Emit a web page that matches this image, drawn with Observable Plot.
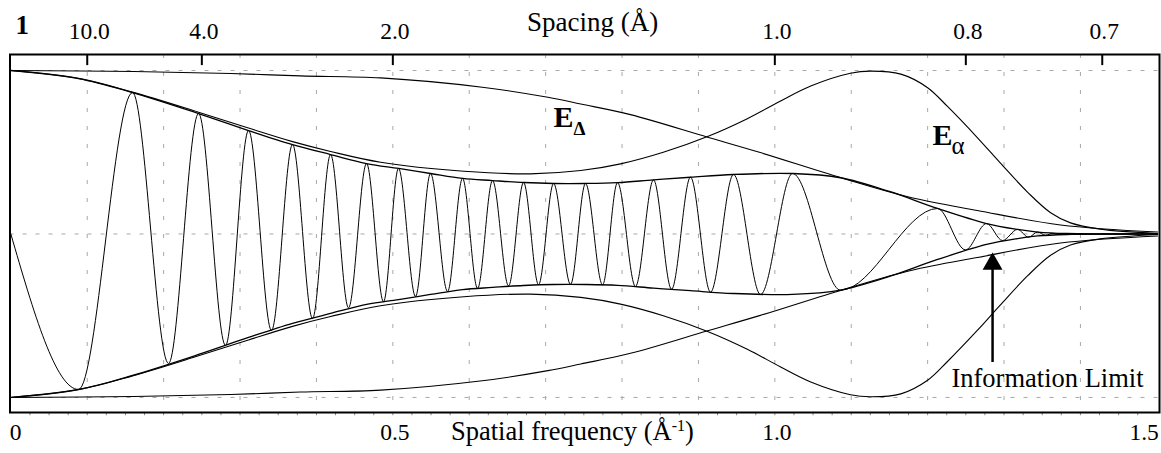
<!DOCTYPE html>
<html><head><meta charset="utf-8">
<script src="https://cdn.jsdelivr.net/npm/d3@7"></script>
<script src="https://cdn.jsdelivr.net/npm/@observablehq/plot@0.6"></script>
<style>html,body{margin:0;padding:0;background:#fff;overflow:hidden}</style>
</head><body><div id="chart"></div>
<script>
// ---- CTF extrema (spatial frequency, amplitude) ----
const ctfK = [0, 0.0886, 0.1593, 0.2064, 0.2457, 0.2810, 0.3111, 0.3412, 0.3687, 0.3949,
  0.4185, 0.4420, 0.4656, 0.4878, 0.5074, 0.5297, 0.5493, 0.5716, 0.5912, 0.6109,
  0.6305, 0.6515, 0.6711, 0.6907, 0.7104, 0.7326, 0.7522, 0.7745, 0.7941, 0.8176,
  0.8412, 0.8648, 0.8896, 0.9158, 0.9459, 0.9813, 1.0232, 1.0860, 1.2130, 1.2496,
  1.2771, 1.2980, 1.3177, 1.3321, 1.3439, 1.3544, 1.3635, 1.3714, 1.3818, 1.5];
const ctfV = [0, -0.951, 0.865, -0.792, 0.737, -0.682, 0.633, -0.590, 0.547, -0.517,
  0.486, -0.452, 0.431, -0.414, 0.401, -0.382, 0.370, -0.352, 0.340, -0.333,
  0.327, -0.318, 0.315, -0.310, 0.309, -0.308, 0.309, -0.311, 0.314, -0.321,
  0.331, -0.338, 0.347, -0.356, 0.364, -0.370, 0.370, -0.344, 0.156, -0.097,
  0.064, -0.040, 0.028, -0.020, 0.012, -0.008, 0.004, -0.002, 0, 0];

// ---- combined envelope E_alpha * E_delta ----
const envK = [0, 0.0886, 0.1593, 0.2457, 0.3111, 0.3687, 0.4185, 0.4656, 0.5074, 0.5493,
  0.5912, 0.6305, 0.6711, 0.7104, 0.7522, 0.7941, 0.8412, 0.8896, 0.9459, 1.0232,
  1.0860, 1.15, 1.2130, 1.2771, 1.3177, 1.3439, 1.3818, 1.5];
const envV = [1, 0.951, 0.865, 0.737, 0.633, 0.547, 0.486, 0.431, 0.401, 0.370,
  0.340, 0.327, 0.315, 0.309, 0.309, 0.314, 0.331, 0.347, 0.364, 0.370,
  0.344, 0.26, 0.156, 0.064, 0.028, 0.012, 0.003, 0];

// ---- spatial coherence envelope E_alpha ----
const eAlphaK = [0, 0.0886, 0.1593, 0.2457, 0.3111, 0.3687, 0.4185, 0.484, 0.593, 0.680,
  0.746, 0.798, 0.854, 0.912, 0.964, 1.007, 1.047, 1.099, 1.125,
  1.165, 1.200, 1.226, 1.265, 1.295, 1.331, 1.361, 1.387, 1.426, 1.501];
const eAlphaV = [1, 0.952, 0.868, 0.745, 0.648, 0.565, 0.505, 0.439, 0.384, 0.368,
  0.388, 0.429, 0.500, 0.596, 0.705, 0.812, 0.905, 0.983, 0.996,
  0.978, 0.895, 0.780, 0.590, 0.435, 0.255, 0.130, 0.068, 0.030, 0.003];

// ---- temporal coherence envelope E_delta ----
const eDeltaK = [0, 0.161, 0.288, 0.379, 0.484, 0.617, 0.703, 0.746, 0.811, 0.912,
  0.981, 1.090, 1.178, 1.265, 1.374, 1.501];
const eDeltaV = [1, 0.994, 0.982, 0.967, 0.955, 0.898, 0.836, 0.795, 0.730, 0.592,
  0.498, 0.339, 0.223, 0.144, 0.055, 0.012];

// ---- axes ----
const freqTicks = [0.5, 1.0];
const freqLabels = ["0.5", "1.0"];
const spacingTicks = [10.0, 4.0, 2.0, 1.0, 0.8, 0.7];
const spacingLabels = ["10.0", "4.0", "2.0", "1.0", "0.8", "0.7"];
const gridX = [0.1, 0.2, 0.3, 0.4, 0.5, 0.6, 0.7, 0.8, 0.9, 1.0, 1.1, 1.2, 1.3, 1.4];
const gridY = [-1, 0, 1];

const toRows = (ks, vs) => ks.map((k, i) => ({k, v: vs[i]}));
const ctf = toRows(ctfK, ctfV);
const envUp = toRows(envK, envV), envDn = toRows(envK, envV.map(v => -v));
const eaUp = toRows(eAlphaK, eAlphaV), eaDn = toRows(eAlphaK, eAlphaV.map(v => -v));
const edUp = toRows(eDeltaK, eDeltaV), edDn = toRows(eDeltaK, eDeltaV.map(v => -v));

const yBot = -1.092, yTop = 1.098;
const minor = d3.range(1, 60).map(i => i * 0.025);
const font = "Liberation Serif";
const envOpts = {x: "k", y: "v", curve: "catmull-rom", stroke: "black", strokeWidth: 1.1};
const T = (o) => ({fontFamily: font, lineAnchor: "bottom", fill: "black", ...o});

const chart = Plot.plot({
  width: 1161, height: 453,
  marginLeft: 9.5, marginRight: 2, marginTop: 54, marginBottom: 41,
  x: {domain: [-0.0011, 1.5035], axis: null},
  y: {domain: [yBot, yTop], axis: null},
  style: {background: "white", color: "black"},
  marks: [
    Plot.ruleX(gridX, {stroke: "#a8a8a8", strokeWidth: 1, strokeDasharray: "4,14"}),
    Plot.ruleY(gridY, {stroke: "#a8a8a8", strokeWidth: 1, strokeDasharray: "4,9"}),
    Plot.ruleX(minor, {y1: yBot, y2: yBot - 0.02, stroke: "#888", strokeWidth: 1}),
    Plot.line(edUp, envOpts), Plot.line(edDn, envOpts),
    Plot.line(eaUp, envOpts), Plot.line(eaDn, envOpts),
    Plot.line(envUp, {...envOpts, strokeWidth: 1.3}), Plot.line(envDn, {...envOpts, strokeWidth: 1.3}),
    Plot.line(ctf, {x: "k", y: "v", curve: "monotone-x", stroke: "black", strokeWidth: 1}),
    Plot.frame({stroke: "black", strokeWidth: 2}),
    Plot.ruleX(spacingTicks, {x: d => 1 / d, y1: yTop, y2: yTop - 0.068, stroke: "black", strokeWidth: 2}),
    Plot.text(spacingTicks, T({x: d => 1 / d, y: 1.19, text: (d, i) => spacingLabels[i], fontSize: 23.5, dx: 2})),
    Plot.text(["Spacing (Å)"], T({x: 0.7614, y: 1.24, text: d => d, fontSize: 27})),
    Plot.text(["1"], T({x: 0.0062, y: 1.226, text: d => d, fontSize: 27, fontWeight: "bold", textAnchor: "start"})),
    Plot.text(freqTicks, T({x: d => d, y: -1.263, text: (d, i) => freqLabels[i], fontSize: 23.5, dx: 2})),
    Plot.text(["0"], T({x: 0, y: -1.263, text: d => d, fontSize: 23.5, textAnchor: "start", dx: -1})),
    Plot.text(["1.5"], T({x: 1.5, y: -1.263, text: d => d, fontSize: 23.5, textAnchor: "end", dx: 2})),
    Plot.text(["Spatial frequency (Å-1)"], T({x: 0.735, y: -1.263, text: d => d, fontSize: 26.5})),
    Plot.text(["E"], T({x: 0.7104, y: 0.6575, text: d => d, fontSize: 30, fontWeight: "bold", textAnchor: "start"})),
    Plot.text(["Δ"], T({x: 0.7366, y: 0.6086, text: d => d, fontSize: 19, fontWeight: "bold", textAnchor: "start"})),
    Plot.text(["E"], T({x: 1.2064, y: 0.547, text: d => d, fontSize: 30, fontWeight: "bold", textAnchor: "start"})),
    Plot.text(["α"], T({x: 1.2313, y: 0.492, text: d => d, fontSize: 25, textAnchor: "start"})),
    Plot.text(["Information Limit"], T({x: 1.4826, y: -0.939, text: d => d, fontSize: 26.5, textAnchor: "end"})),
    Plot.ruleX([1.285], {y1: -0.786, y2: -0.215, stroke: "black", strokeWidth: 2.5}),
    Plot.dot([1.285], {x: d => d, y: -0.183, symbol: "triangle", r: 7.4, fill: "black", stroke: "none"})
  ]
});
document.getElementById("chart").appendChild(chart);
chart.setAttribute("font-family", "Liberation Serif");

// serif face on every text, and superscript for Å^-1
const ns = "http://www.w3.org/2000/svg";
chart.querySelectorAll("text").forEach(t => {
  t.style.fontFamily = "'Liberation Serif'";
  if (t.textContent === "Spatial frequency (Å-1)") {
    while (t.firstChild) t.removeChild(t.firstChild);
    t.appendChild(document.createTextNode("Spatial frequency (Å"));
    const sup = document.createElementNS(ns, "tspan");
    sup.setAttribute("dy", "-9"); sup.setAttribute("font-size", "16");
    sup.textContent = "-1";
    t.appendChild(sup);
    const rest = document.createElementNS(ns, "tspan");
    rest.setAttribute("dy", "9");
    rest.textContent = ")";
    t.appendChild(rest);
  }
});
</script>
</body></html>
